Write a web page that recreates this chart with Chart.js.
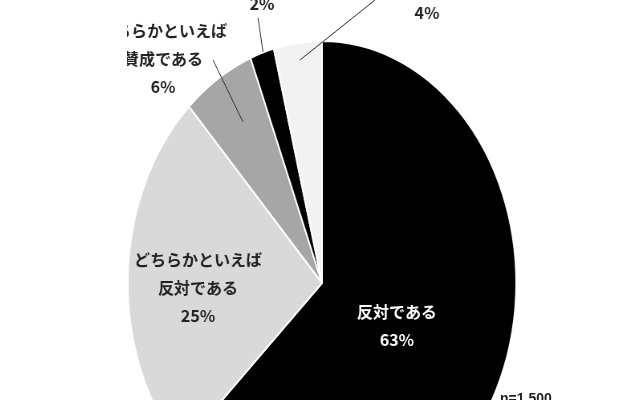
<!DOCTYPE html>
<html><head><meta charset="utf-8">
<script src="https://cdn.jsdelivr.net/npm/chart.js@4"></script>
<style>
html,body{margin:0;padding:0;width:640px;height:400px;overflow:hidden;background:#fff;}
#c{position:absolute;left:127px;top:0px;}
</style></head><body>
<canvas id="c" width="486" height="526" style="width:390px;height:526px"></canvas>
<script>
const categories = ["反対である","どちらかといえば反対である","どちらかといえば賛成である","賛成である","わからない"];
const values = [63, 25, 6, 2, 4];
const colors = ["#000000","#d9d9d9","#a6a6a6","#000000","#f2f2f2"];
const labelLines = [["反対である","63%"],["どちらかといえば","反対である","25%"],["どちらかといえば","賛成である","6%"],["賛成である","2%"],["わからない","4%"]];

const SX = 390/486, LEFT = 127;
const cx = x => (x - LEFT) / SX, cy = y => y;
const labelPos = [[397,312,"#fff"],[198,260,"#222"],[163,31,"#222"],[262,-24,"#222"],[427,-15,"#222"]];
const leaders = [null,null,[[213,60],[243,122]],[[258,18],[263,52]],[[375,0],[300,60]]];

const labelPlugin = {
  id:'labels',
  afterDraw(chart){
    const ctx = chart.ctx;
    ctx.save();
    ctx.strokeStyle = '#222'; ctx.lineWidth = 1;
    leaders.forEach(l=>{ if(!l) return;
      ctx.beginPath(); ctx.moveTo(cx(l[0][0]),cy(l[0][1])); ctx.lineTo(cx(l[1][0]),cy(l[1][1])); ctx.stroke();});
    labelLines.forEach((lines,i)=>{
      const [px,py,col] = labelPos[i];
      ctx.fillStyle = col;
      ctx.textAlign='center'; ctx.textBaseline='middle';
      lines.forEach((t,j)=>{
        const y = py + j*28;
        ctx.save();
        ctx.translate(cx(px), cy(y));
        ctx.scale(1/SX,1);
        ctx.font = 'bold 16px "Noto Sans CJK JP", "Liberation Sans", sans-serif';
        ctx.fillText(t,0,0);
        ctx.restore();
      });
    });
    ctx.restore();
  }
};

new Chart(document.getElementById('c'),{
  type:'pie',
  data:{labels:categories,datasets:[{data:values,backgroundColor:colors,borderColor:'#fff',borderWidth:2}]},
  options:{responsive:false,animation:false,devicePixelRatio:1,layout:{padding:{top:40,bottom:0,left:0,right:0}},
    plugins:{legend:{display:false},tooltip:{enabled:false}}},
  plugins:[labelPlugin]
});
</script>
<div style="position:absolute;left:500px;top:390px;font:bold 14px 'Liberation Sans',sans-serif;color:#222;">n=1,500</div>
</body></html>
